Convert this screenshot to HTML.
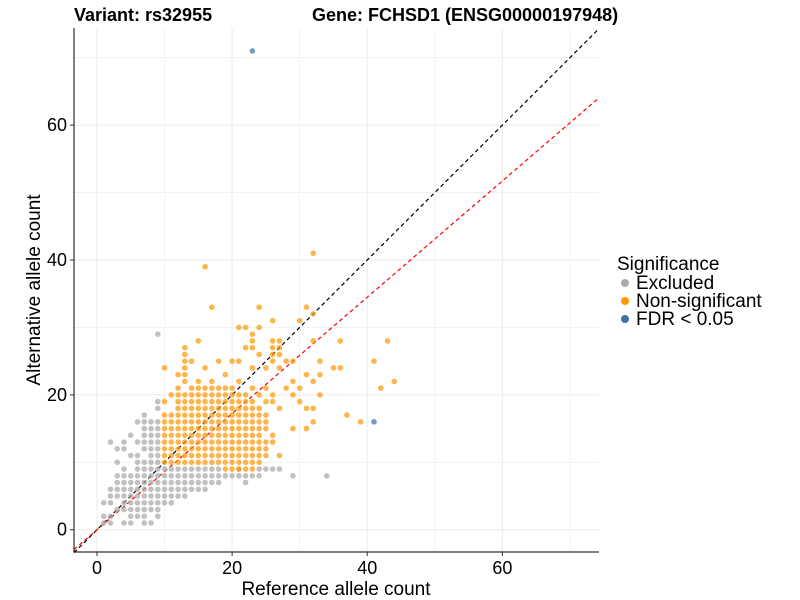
<!DOCTYPE html>
<html><head><meta charset="utf-8"><style>
body{margin:0;background:#fff;}
svg{display:block;font-family:"Liberation Sans",Arial,sans-serif;}
</style></head><body>
<svg id="chart" width="800" height="600" viewBox="0 0 800 600">
<text x="74" y="21" font-size="18" font-weight="bold">Variant: rs32955</text>
<text x="312" y="21" font-size="18" font-weight="bold">Gene: FCHSD1 (ENSG00000197948)</text>
<g id="grid"></g>
<g id="lines"></g>
<g id="points"></g>
<g id="axes"></g>
<text x="336" y="595" font-size="19" text-anchor="middle">Reference allele count</text>
<text transform="translate(40,290) rotate(-90)" font-size="19" text-anchor="middle">Alternative allele count</text>
<g>
<text x="617" y="270" font-size="19">Significance</text>
<circle cx="625" cy="283" r="4" fill="#aaaaaa"/>
<text x="636" y="289" font-size="19">Excluded</text>
<circle cx="625" cy="301" r="4" fill="#ff9900"/>
<text x="636" y="307" font-size="19">Non-significant</text>
<circle cx="625" cy="319" r="4" fill="#3f6fa8"/>
<text x="636" y="325" font-size="19">FDR &lt; 0.05</text>
</g>
</svg>
<script>
const xTicks=[0,20,40,60];
const yTicks=[0,20,40,60];
const slopeRed=0.862;
const excludedCols=[[1,"1,2,4"],[2,"1,2,4-6,13"],[3,"3,5-8,10,12"],[4,"1,3-9,12,13"],[5,"1-8,11,14"],[6,"2-11,13,16"],[7,"1-10,12-17"],[8,"1,3-16"],[9,"2-16,18,19,29"],[10,"4-9"],[11,"4-9"],[12,"5-9"],[13,"5-9"],[14,"6-9"],[15,"6-9"],[16,"6-9"],[17,"7-9"],[18,"7-9"],[19,"8"],[20,"8"],[21,"8,9"],[22,"7,8"],[23,"8"],[24,"8,9"],[25,"9"],[26,"9"],[27,"9"],[29,"8"],[34,"8"]];
const nonsigCols=[[10,"10-17,19,24"],[11,"10-17,20"],[12,"10-21,23"],[13,"10-20,22-27"],[14,"10-21,25"],[15,"10-22,28"],[16,"10-21,24,39"],[17,"10-22,33"],[18,"10-21,25"],[19,"9-21,23"],[20,"9-21,25"],[21,"9-20,22,25,30"],[22,"9-20,27,30"],[23,"9-19,21,24,27-29"],[24,"10-18,20,26,30,33"],[25,"11-13,15-17,19,21,24"],[26,"13,14,19,20,25-28,31"],[27,"11,18,24,26-28"],[28,"21,25"],[29,"15,20,22,25"],[30,"19,21,31"],[31,"15,18,23,33"],[32,"16,18,22,28,32,41"],[33,"20,23,25"],[35,"24"],[36,"24,28"],[37,"17"],[39,"16"],[41,"25"],[42,"21"],[43,"28"],[44,"22"]];
const fdrX=[23,41];
const fdrY=[71,16];

const NS="http://www.w3.org/2000/svg";
const L=74,R=599,T=28,B=552;
const xMin=-3.4,xMax=74.3,yMin=-3.3,yMax=74.4;
const sx=v=>L+(v-xMin)/(xMax-xMin)*(R-L);
const sy=v=>B-(v-yMin)/(yMax-yMin)*(B-T);
function mk(tag,attrs,parent){const e=document.createElementNS(NS,tag);for(const k in attrs)e.setAttribute(k,attrs[k]);parent.appendChild(e);return e;}
function expand(cols){const xs=[],ys=[];cols.forEach(c=>{c[1].split(",").forEach(p=>{const r=p.split("-").map(Number);const a=r[0],b=r.length>1?r[1]:r[0];for(let y=a;y<=b;y++){xs.push(c[0]);ys.push(y);}});});return [xs,ys];}
const grid=document.getElementById("grid");
for(let v=0;v<=70;v+=10){
 const major=v%20===0;
 const gx=mk("line",{x1:sx(v),x2:sx(v),y1:T,y2:B,stroke:"#ebebeb","stroke-width":major?1:0.6},grid);
 
 
 const gy=mk("line",{x1:L,x2:R,y1:sy(v),y2:sy(v),stroke:"#ebebeb","stroke-width":major?1:0.6},grid);
 
 
}
const lines=document.getElementById("lines");
function clipLine(m,color,name){
 const x0=xMin,x1=Math.min(xMax,yMax/m);
 const l=mk("line",{x1:sx(x0),y1:sy(m*x0),x2:sx(x1),y2:sy(m*x1),stroke:color,"stroke-width":1.2,"stroke-dasharray":"4,3"},lines);
 
 
}
clipLine(1,"#000","identity-line");
clipLine(slopeRed,"#ff0000","fit-line");
const pts=document.getElementById("points");
function drawGroup(xs,ys,color,name){
 for(let i=0;i<xs.length;i++){
  const c=mk("circle",{cx:sx(xs[i]),cy:sy(ys[i]),r:2.8,fill:color,"fill-opacity":0.7},pts);
  
  
 }
}
const ex=expand(excludedCols);drawGroup(ex[0],ex[1],"#a6a6a6","excluded-point");
const ns=expand(nonsigCols);drawGroup(ns[0],ns[1],"#ff9500","nonsig-point");
drawGroup(fdrX,fdrY,"#3f6fa8","fdr-point");
const axes=document.getElementById("axes");
let a=mk("line",{x1:L,x2:L,y1:T,y2:B,stroke:"#000","stroke-width":1},axes);

a=mk("line",{x1:L,x2:R,y1:B,y2:B,stroke:"#000","stroke-width":1},axes);

xTicks.forEach(v=>{
 const t=mk("line",{x1:sx(v),x2:sx(v),y1:B,y2:B+4,stroke:"#333"},axes);
 
 const tx=mk("text",{x:sx(v),y:B+22,"font-size":18,"text-anchor":"middle",fill:"#000"},axes);tx.textContent=v;
 
});
yTicks.forEach(v=>{
 const t=mk("line",{x1:L-4,x2:L,y1:sy(v),y2:sy(v),stroke:"#333"},axes);
 
 const tx=mk("text",{x:L-7,y:sy(v)+6,"font-size":18,"text-anchor":"end",fill:"#000"},axes);tx.textContent=v;
 
});
</script>
</body></html>
